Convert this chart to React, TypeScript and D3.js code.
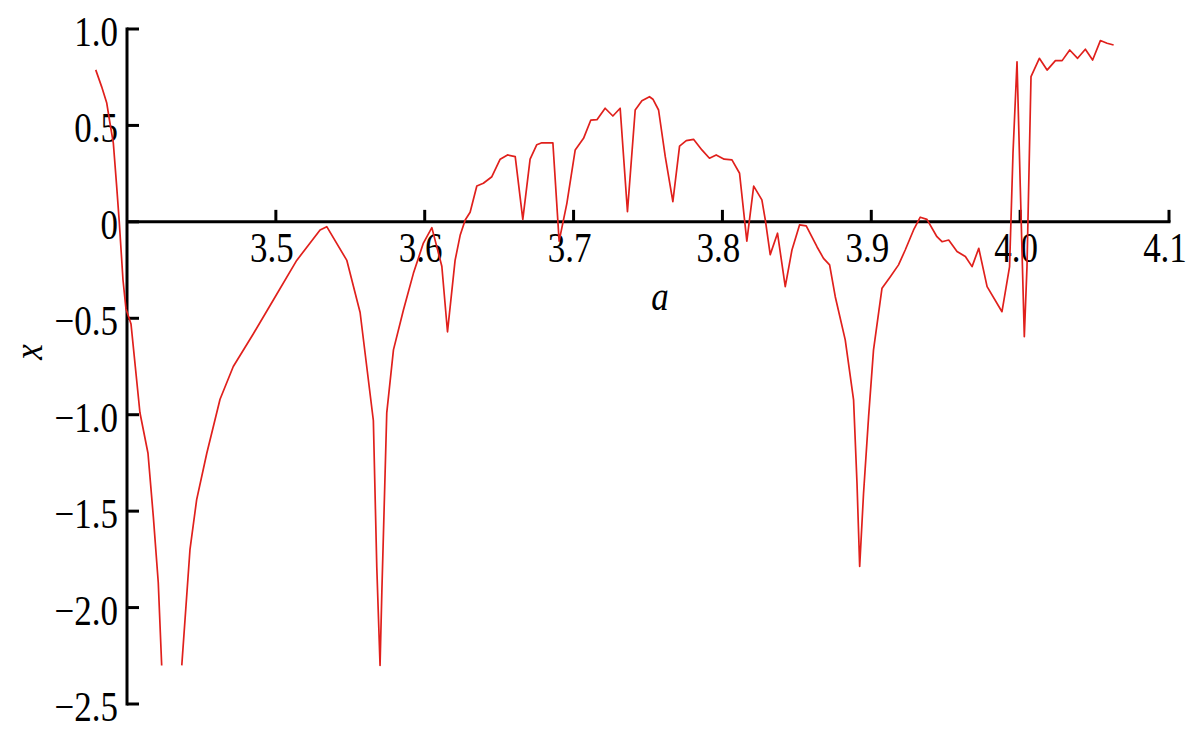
import React from "react";
import * as d3 from "d3";

// control parameter a
const aValues: number[] = [
  3.379, 3.383, 3.3864, 3.3886, 3.3908, 3.3931, 3.3948, 3.3973, 3.3993, 3.4027,
  3.4087, 3.4141, 3.4177, 3.421, 3.4233, 3.43, 3.4368, 3.4423, 3.4468, 3.4536,
  3.4625, 3.4714, 3.4849, 3.4983, 3.514, 3.5297, 3.5342, 3.5477, 3.5566, 3.5655,
  3.5678, 3.57, 3.5712, 3.5745, 3.579, 3.5857, 3.5924, 3.5991, 3.6048, 3.6115,
  3.6153, 3.6204, 3.6238, 3.6272, 3.6305, 3.635, 3.6394, 3.6451, 3.6507, 3.6556,
  3.6608, 3.6659, 3.6708, 3.6753, 3.6787, 3.6861, 3.6903, 3.6955, 3.7011, 3.7067,
  3.7116, 3.7157, 3.7212, 3.7264, 3.7313, 3.7362, 3.7414, 3.7459, 3.751, 3.7533,
  3.7571, 3.7616, 3.7667, 3.7712, 3.7757, 3.7806, 3.7862, 3.7913, 3.7958, 3.8012,
  3.8064, 3.8115, 3.8164, 3.821, 3.8265, 3.8288, 3.8321, 3.837, 3.8422, 3.8467,
  3.8518, 3.8563, 3.8635, 3.8679, 3.872, 3.8758, 3.8825, 3.8881, 3.8904, 3.8922,
  3.8948, 3.8982, 3.9015, 3.9072, 3.9128, 3.9183, 3.9228, 3.9284, 3.9329, 3.9374,
  3.9441, 3.9475, 3.952, 3.9576, 3.9632, 3.9677, 3.9722, 3.9778, 3.9878, 3.9929,
  3.9952, 3.9979, 4.0001, 4.0028, 4.0046, 4.0073, 4.0129, 4.0181, 4.0237, 4.0282,
  4.0333, 4.0386, 4.0438, 4.0487, 4.0539, 4.0584, 4.0628,
];

// x value (NaN = below plotted range)
const xValues: number[] = [
  0.788, 0.7, 0.616, 0.51, 0.41, 0.18, 0.0, -0.3, -0.45, -0.53,
  -0.99, -1.2, -1.53, -1.87, -2.3, NaN, -2.3, -1.7, -1.44, -1.2,
  -0.92, -0.75, -0.58, -0.405, -0.2, -0.042, -0.025, -0.2, -0.47, -1.03,
  -1.79, -2.3, -1.92, -0.99, -0.664, -0.457, -0.267, -0.11, -0.03, -0.23,
  -0.57, -0.2, -0.07, 0.01, 0.05, 0.186, 0.2, 0.234, 0.325, 0.347,
  0.338, 0.013, 0.325, 0.4, 0.41, 0.41, -0.1, 0.096, 0.373, 0.433,
  0.528, 0.53, 0.589, 0.549, 0.589, 0.053, 0.58, 0.628, 0.649, 0.636,
  0.58, 0.338, 0.105, 0.393, 0.421, 0.428, 0.373, 0.33, 0.347, 0.325,
  0.321, 0.252, -0.1, 0.185, 0.114, 0.01, -0.17, -0.059, -0.336, -0.146,
  -0.016, -0.021, -0.129, -0.189, -0.223, -0.388, -0.612, -0.923, -1.355, -1.787,
  -1.407, -1.01, -0.664, -0.344, -0.284, -0.223, -0.146, -0.042, 0.024, 0.013,
  -0.077, -0.103, -0.094, -0.154, -0.18, -0.232, -0.137, -0.336, -0.466, -0.232,
  0.356, 0.83, 0.18, -0.595, -0.232, 0.753, 0.848, 0.787, 0.836, 0.836,
  0.891, 0.848, 0.895, 0.839, 0.94, 0.926, 0.917,
];

const xTicks: number[] = [3.5, 3.6, 3.7, 3.8, 3.9, 4.0, 4.1];
const xTickLabels: string[] = ["3.5", "3.6", "3.7", "3.8", "3.9", "4.0", "4.1"];
const yTicks: number[] = [1.0, 0.5, 0, -0.5, -1.0, -1.5, -2.0, -2.5];
const yTickLabels: string[] = ["1.0", "0.5", "0", "\u22120.5", "\u22121.0", "\u22121.5", "\u22122.0", "\u22122.5"];

const W = 1200;
const H = 749;
const FONT = "'Liberation Serif', 'Times New Roman', serif";

export default function App() {
  const xScale = d3.scaleLinear().domain([3.4, 4.1]).range([127, 1169]);
  const yScale = d3.scaleLinear().domain([1.0, -2.5]).range([29, 704]);

  const data = aValues.map((a, i) => ({ a, v: xValues[i] }));
  const line = d3
    .line<{ a: number; v: number }>()
    .defined((d) => !isNaN(d.v))
    .x((d) => xScale(d.a))
    .y((d) => yScale(d.v));

  const y0 = yScale(0);
  const axisW = 3;
  const tickLen = 12;

  return (
    <svg
      width={W}
      height={H}
      style={{ position: "absolute", left: 0, top: 0, background: "#fff" }}
      fontFamily={FONT}
    >
      <rect x={0} y={0} width={W} height={H} fill="#fff" />
      {/* y axis */}
      <line x1={xScale(3.4)} x2={xScale(3.4)} y1={yScale(1.0) - 1.5} y2={yScale(-2.5) + 1.5} stroke="#000" strokeWidth={axisW} />
      {yTicks.map((t, i) => (
        <g key={"yt" + i}>
          <line x1={xScale(3.4)} x2={xScale(3.4) + tickLen} y1={yScale(t)} y2={yScale(t)} stroke="#000" strokeWidth={axisW} />
          <text
            transform={`translate(${xScale(3.4) - 9}, ${yScale(t) + 17}) scale(1,1.2)`}
            textAnchor="end"
            fontSize={35}
            fill="#000"
          >
            {yTickLabels[i]}
          </text>
        </g>
      ))}
      {/* x axis */}
      <line x1={xScale(3.4)} x2={xScale(4.1) + 1.5} y1={y0} y2={y0} stroke="#000" strokeWidth={axisW} />
      {xTicks.map((t, i) => (
        <g key={"xt" + i}>
          <line x1={xScale(t)} x2={xScale(t)} y1={y0} y2={y0 - tickLen} stroke="#000" strokeWidth={axisW} />
          <text
            transform={`translate(${xScale(t) - 4}, ${y0 + 40}) scale(1,1.2)`}
            textAnchor="middle"
            fontSize={35}
            fill="#000"
          >
            {xTickLabels[i]}
          </text>
        </g>
      ))}
      {/* axis titles */}
      <text
        transform={`translate(660, 310) scale(1,1.2)`}
        textAnchor="middle"
        fontSize={35}
        fontStyle="italic"
        fill="#000"
      >
        a
      </text>
      <text
        transform={`translate(42, 352) rotate(-90) scale(1,1.2)`}
        textAnchor="middle"
        fontSize={35}
        fontStyle="italic"
        fill="#000"
      >
        x
      </text>
      {/* data line */}
      <path d={line(data) || ""} fill="none" stroke="#e0201c" strokeWidth={1.7} strokeLinejoin="round" />
    </svg>
  );
}
